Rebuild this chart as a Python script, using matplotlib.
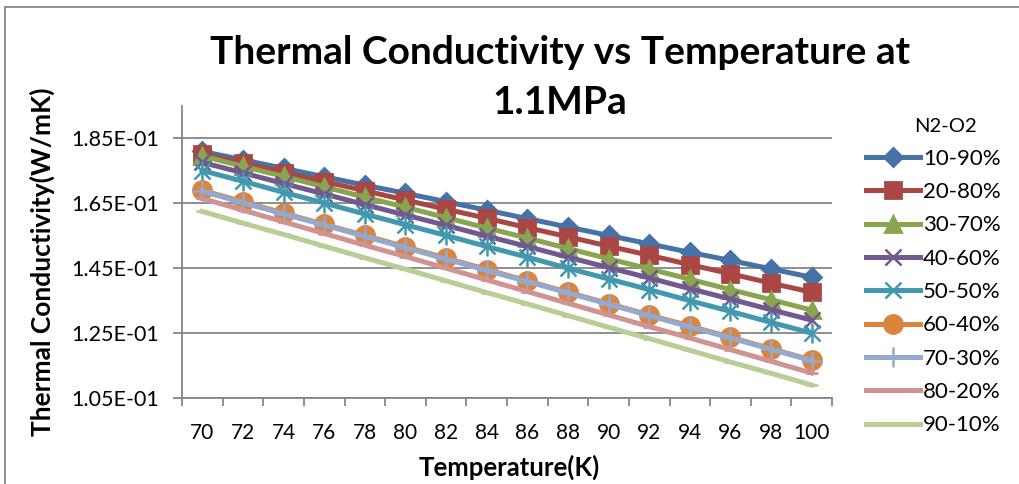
import numpy as np
import matplotlib
matplotlib.use('agg')
import matplotlib.pyplot as plt
from matplotlib.patches import Rectangle
from matplotlib.ticker import FuncFormatter

plt.rcParams["font.family"] = ["Lato", "DejaVu Sans"]

# Temperature (K) and thermal conductivity (W/mK) for each N2-O2 mixture
temps = [70, 72, 74, 76, 78, 80, 82, 84, 86, 88, 90, 92, 94, 96, 98, 100]

k_10_90 = [0.1810, 0.1784, 0.1758, 0.1732, 0.1706, 0.1681, 0.1655, 0.1629,
           0.1603, 0.1577, 0.1551, 0.1525, 0.1499, 0.1474, 0.1448, 0.1422]
k_20_80 = [0.1802, 0.1774, 0.1745, 0.1717, 0.1689, 0.1660, 0.1632, 0.1604,
           0.1575, 0.1547, 0.1518, 0.1490, 0.1461, 0.1433, 0.1404, 0.1376]
k_30_70 = [0.1796, 0.1764, 0.1733, 0.1701, 0.1669, 0.1638, 0.1606, 0.1574,
           0.1543, 0.1511, 0.1479, 0.1448, 0.1416, 0.1384, 0.1353, 0.1321]
k_40_60 = [0.1776, 0.1744, 0.1711, 0.1679, 0.1646, 0.1614, 0.1582, 0.1549,
           0.1517, 0.1484, 0.1452, 0.1420, 0.1387, 0.1355, 0.1322, 0.1290]
k_50_50 = [0.1751, 0.1718, 0.1684, 0.1651, 0.1617, 0.1584, 0.1551, 0.1517,
           0.1484, 0.1450, 0.1417, 0.1384, 0.1350, 0.1317, 0.1283, 0.1250]
k_60_40 = [0.1690, 0.1655, 0.1620, 0.1585, 0.1551, 0.1516, 0.1481, 0.1446,
           0.1411, 0.1376, 0.1341, 0.1306, 0.1272, 0.1237, 0.1202, 0.1167]
k_70_30 = [0.1687, 0.1652, 0.1617, 0.1583, 0.1548, 0.1513, 0.1478, 0.1443,
           0.1409, 0.1374, 0.1339, 0.1304, 0.1269, 0.1235, 0.1200, 0.1165]
k_80_20 = [0.1665, 0.1629, 0.1593, 0.1557, 0.1521, 0.1486, 0.1450, 0.1414,
           0.1378, 0.1342, 0.1306, 0.1270, 0.1235, 0.1199, 0.1163, 0.1127]
k_90_10 = [0.1625, 0.1589, 0.1554, 0.1518, 0.1482, 0.1447, 0.1411, 0.1375,
           0.1340, 0.1304, 0.1268, 0.1233, 0.1197, 0.1161, 0.1126, 0.1090]

labels = ["10-90%", "20-80%", "30-70%", "40-60%", "50-50%",
          "60-40%", "70-30%", "80-20%", "90-10%"]
series = [k_10_90, k_20_80, k_30_70, k_40_60, k_50_50,
          k_60_40, k_70_30, k_80_20, k_90_10]

colors = ["#4572A7", "#AA4643", "#89A54E", "#71588F", "#4198AF",
          "#DB843D", "#93A9CF", "#D19392", "#B9CD96"]
markers = ["D", "s", "^", "x", "x", "o", "+", "_", "_"]
msizes = [9, 12, 11, 12, 12, 13, 14, 9, 9]

fig = plt.figure(figsize=(10.19, 4.84), dpi=100)
ax = fig.add_axes([182 / 1019, 1 - 398 / 484, 650 / 1019, 292 / 484])

for i, (vals, lab, c, m, ms) in enumerate(zip(series, labels, colors,
                                              markers, msizes)):
    if m in ("x", "+"):
        ax.plot(temps, vals, color=c, lw=3.6, label=None)
        ax.plot(temps, vals, color=c, lw=0, marker=m, ms=ms, mew=1.8)
        if i == 4:
            # asterisk-like marker: an x with a vertical bar through it
            ax.plot(temps, vals, color=c, lw=0, marker="|", ms=ms + 3,
                    mew=1.8)
        ax.plot([], [], color=c, lw=3.6, marker=m, ms=ms, mew=1.8, label=lab)
    else:
        ax.plot(temps, vals, color=c, lw=3.6, marker=m, ms=ms, mew=2,
                mec=c, label=lab)

ax.set_xlim(69, 101)
ax.set_ylim(0.105, 0.195)

# category-style x axis: tick marks between points, labels under points
ax.set_xticks(np.arange(69, 102, 2))
ax.set_xticklabels([])
ax.set_xticks(temps, minor=True)
ax.set_xticklabels([str(t) for t in temps], minor=True)
ax.tick_params(axis="x", which="major", length=5.5, width=1.3,
               color="#868686", direction="out")
ax.tick_params(axis="x", which="minor", length=0, labelsize=15, pad=18)

ax.set_yticks([0.105, 0.125, 0.145, 0.165, 0.185])
ax.yaxis.set_major_formatter(FuncFormatter(lambda v, p: f"{v:.2E}"))
ax.tick_params(axis="y", length=6.5, width=1.3, color="#868686",
               direction="out", labelsize=15.5, pad=10)

ax.grid(axis="y", color="#868686", lw=1.3)
ax.set_axisbelow(True)
for s in ("top", "right"):
    ax.spines[s].set_visible(False)
for s in ("left", "bottom"):
    ax.spines[s].set_color("#868686")
    ax.spines[s].set_linewidth(1.3)

ax.set_xlabel("Temperature(K)", fontsize=18.5, fontweight="bold")
ax.xaxis.set_label_coords(509 / 1019, 1 - 467 / 484,
                          transform=fig.transFigure)
ax.set_ylabel("Thermal Conductivity(W/mK)", fontsize=19, fontweight="bold")
ax.yaxis.set_label_coords(42 / 1019, 1 - 262 / 484,
                          transform=fig.transFigure)
ax.xaxis.label.set_va("center")
ax.yaxis.label.set_va("center")

fig.text(560 / 1019, 1 - 52 / 484, "Thermal Conductivity vs Temperature at",
         ha="center", va="center", fontsize=28, fontweight="bold")
fig.text(560 / 1019, 1 - 102 / 484, "1.1MPa",
         ha="center", va="center", fontsize=28, fontweight="bold")

leg = ax.legend(title="N2-O2", loc="upper left",
                bbox_to_anchor=(862 / 1019, 1 - 114 / 484),
                bbox_transform=fig.transFigure, frameon=False,
                fontsize=16, title_fontsize=14.5, handlelength=2.4,
                labelspacing=0.6, handletextpad=0.15, borderpad=0.2,
                borderaxespad=0)
leg.get_title().set_position((12, 0))

# outer chart border
fig.add_artist(Rectangle((5 / 1019, -0.2), 1.2, 1.2 - 7 / 484,
                         transform=fig.transFigure, fill=False,
                         edgecolor="#868686", lw=1.3, clip_on=False))

fig.savefig("out.png", dpi=100)
